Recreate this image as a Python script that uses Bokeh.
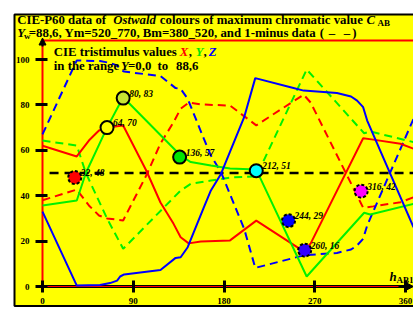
from bokeh.plotting import figure
from bokeh.models import Range1d, LinearAxis, FixedTicker, Arrow, NormalHead
from bokeh.core.properties import value
from bokeh.embed import file_html
from bokeh.resources import INLINE

# ---------------- data ----------------
# CIE tristimulus X (red), solid = data, dashed = 1-minus data
X_hue = [0, 34, 46, 56, 64, 80, 103, 117, 130, 137, 145, 157, 186, 212, 259, 266, 318, 328, 355, 368]
X_val = [62.0, 57.3, 64.3, 68.7, 70.0, 70.9, 51.0, 37.0, 27.6, 21.7, 19.0, 19.8, 20.3, 29.0, 15.5, 19.0, 65.3, 64.7, 62.9, 60.7]
X_minus = [38.0, 42.7, 35.7, 31.3, 30.0, 29.1, 49.0, 63.0, 72.4, 78.3, 81.0, 80.2, 79.7, 71.0, 84.5, 81.0, 34.7, 35.3, 37.1, 39.3]

# Y (green)
Y_hue = [0, 34, 43, 64, 80, 137, 147, 167, 186, 212, 262, 319, 325, 368]
Y_val = [35.7, 37.9, 50.0, 70.0, 83.4, 57.7, 54.8, 53.3, 52.0, 51.5, 4.4, 32.5, 31.7, 36.4]
Y_minus = [64.3, 62.1, 50.0, 30.0, 16.6, 42.3, 45.2, 46.7, 48.0, 48.5, 95.6, 67.5, 68.3, 63.6]

# Z (blue)
Z_hue = [0, 34, 57, 67, 74, 77, 81, 117, 132, 137, 144, 160, 167, 177, 200, 211, 246, 259, 292, 306, 312, 318, 322, 368]
Z_val = [33.0, 0.4, 0.7, 1.5, 2.6, 4.4, 5.3, 7.3, 12.6, 12.9, 17.3, 34.9, 42.3, 49.6, 74.6, 91.8, 87.8, 86.3, 85.2, 83.7, 81.9, 79.0, 73.1, 26.1]
Z_minus = [67.0, 99.6, 99.3, 98.5, 97.4, 95.6, 94.7, 92.7, 87.4, 87.1, 82.7, 65.1, 57.7, 50.4, 25.4, 8.2, 12.2, 13.7, 14.8, 16.3, 18.1, 21.0, 26.9, 73.9]

# Ostwald colours of maximum chromatic value (hue, value)
mk_hue = [32, 64, 80, 136, 212, 244, 260, 316]
mk_val = [48, 70, 83, 57, 51, 29, 16, 42]
mk_color = ["#ff0000", "#ffff00", "#c8e632", "#00e600", "#00ffff", "#0000ff", "#3300ff", "#ff00ff"]
mk_dashed = [True, False, False, False, False, True, True, True]

# reference level line
ref_x = [7, 368]
ref_y = [50, 50]

x_ticks = [0, 90, 180, 270, 360]
y_ticks = [0, 20, 40, 60, 80, 100]

# ---------------- layout helpers (page pixel -> data) ----------------
W, H = 413, 311
SX = 363.0 / 360.0
SY = 2.27


def dx(px):
    return (px - 42) / SX


def dy(py):
    return (286 - py) / SY


FONT = value("Liberation Serif")
FS = "12.8px"

p = figure(width=W, height=H,
           x_range=Range1d(dx(0), dx(W)), y_range=Range1d(dy(H), dy(0)),
           output_backend="svg", toolbar_location=None, min_border=0,
           x_axis_type=None, y_axis_type=None)
p.outline_line_color = None
p.background_fill_color = "white"
p.border_fill_color = "white"

# yellow page with black border
p.quad(left=[dx(14)], right=[dx(440)], top=[dy(14)], bottom=[dy(305.5)],
       fill_color="#ffff00", line_color="black", line_width=2)

# black x axis line
p.line([dx(37), dx(406)], [0, 0], line_color="black", line_width=3)
# red frame of the plot area
p.line([dx(440), 0, 0], [dy(40), dy(40), 0], line_color="red", line_width=2)
p.line([0, dx(440)], [0, 0], line_color="red", line_width=1.2)

# reference level
p.line(ref_x, ref_y, line_color="black", line_width=2.5, line_dash="9 6")

# data lines
p.line(X_hue, X_minus, line_color="#ff0000", line_width=2, line_dash="8 5")
p.line(Y_hue, Y_minus, line_color="#00f000", line_width=2, line_dash="8 5")
p.line(Z_hue, Z_minus, line_color="#0000ff", line_width=2, line_dash="8 5")
p.line(X_hue, X_val, line_color="#ff0000", line_width=2)
p.line(Y_hue, Y_val, line_color="#00f000", line_width=2)
p.line(Z_hue, Z_val, line_color="#0000ff", line_width=2)

# markers
for dashed in (False, True):
    idx = [i for i in range(len(mk_hue)) if mk_dashed[i] == dashed]
    p.scatter([mk_hue[i] for i in idx], [mk_val[i] for i in idx], size=13,
              fill_color=[mk_color[i] for i in idx], line_color="black", line_width=2,
              line_dash="3 2" if dashed else "solid")
p.text(mk_hue, mk_val, text=[f"{h}, {v}" for h, v in zip(mk_hue, mk_val)],
       x_offset=6, y_offset=-4.5, text_font=FONT, text_font_style="bold italic",
       text_font_size="9.5px", text_baseline="alphabetic", text_color="black")

# axes
yaxis = LinearAxis(fixed_location=0, ticker=FixedTicker(ticks=y_ticks),
                   axis_line_color=None, major_tick_in=5, major_tick_out=7,
                   major_tick_line_width=3, major_tick_line_color="black",
                   minor_tick_line_color=None, major_label_standoff=6,
                   major_label_text_font="Liberation Serif",
                   major_label_text_font_style="bold",
                   major_label_text_font_size="9px", major_label_text_color="black")
p.add_layout(yaxis, "left")
xaxis = LinearAxis(fixed_location=0, ticker=FixedTicker(ticks=x_ticks),
                   axis_line_color=None, major_tick_in=6, major_tick_out=6,
                   major_tick_line_width=3, major_tick_line_color="black",
                   minor_tick_line_color=None, major_label_standoff=5,
                   major_label_text_font="Liberation Serif",
                   major_label_text_font_style="bold",
                   major_label_text_font_size="9px", major_label_text_color="black")
p.add_layout(xaxis, "below")

# arrows
p.add_layout(Arrow(end=NormalHead(size=7, fill_color="black", line_color="black"),
                   x_start=0, y_start=dy(46), x_end=0, y_end=dy(37.5),
                   line_color="black", line_width=2))
p.add_layout(Arrow(end=NormalHead(size=7, fill_color="black", line_color="black"),
                   x_start=dx(398), y_start=0, x_end=dx(413), y_end=0,
                   line_color="black", line_width=2))


def txt(px, py, s, size=FS, style="bold", color="black"):
    p.text([dx(px)], [dy(py)], text=[s], text_font=FONT, text_font_style=style,
           text_font_size=size, text_color=color, text_baseline="alphabetic",
           text_align="left")


# title
txt(16.7, 19.5, "CIE-P60 data of")
txt(112.7, 19.5, "Ostwald", style="bold italic")
txt(159.3, 19.5, "colours of maximum chromatic value")
txt(366, 19.5, "C", style="bold italic")
txt(377, 22.5, "AB", size="9px")
txt(16.7, 32.8, "Y", style="bold italic")
txt(23.5, 35.5, "w", size="9px")
txt(28.3, 32.8, "=88,6, Ym=520_770, Bm=380_520, and 1-minus data")
txt(319.3, 32.8, "(")
txt(328.3, 32.8, "\u2013")
txt(343.3, 32.8, "\u2013")
txt(351.7, 32.8, ")")

# inner legend
txt(53.3, 51.5, "CIE tristimulus values")
txt(179.3, 51.5, "X", style="bold italic", color="#ff0000")
txt(188.3, 51.5, ",")
txt(195, 51.5, "Y", style="bold italic", color="#00e600")
txt(203, 51.5, ",")
txt(208.3, 51.5, "Z", style="bold italic", color="#0000ff")
txt(53.3, 65.5, "in the range")
txt(120.5, 65.5, "Y", style="bold italic")
txt(127.5, 65.5, "=0,0")
txt(157, 65.5, "to")
txt(175.5, 65.5, "88,6")

# x axis name
txt(389, 276, "h", style="bold italic")
txt(396, 279, "AB1", size="9px")

open("out.html", "w").write(file_html(p, INLINE))
